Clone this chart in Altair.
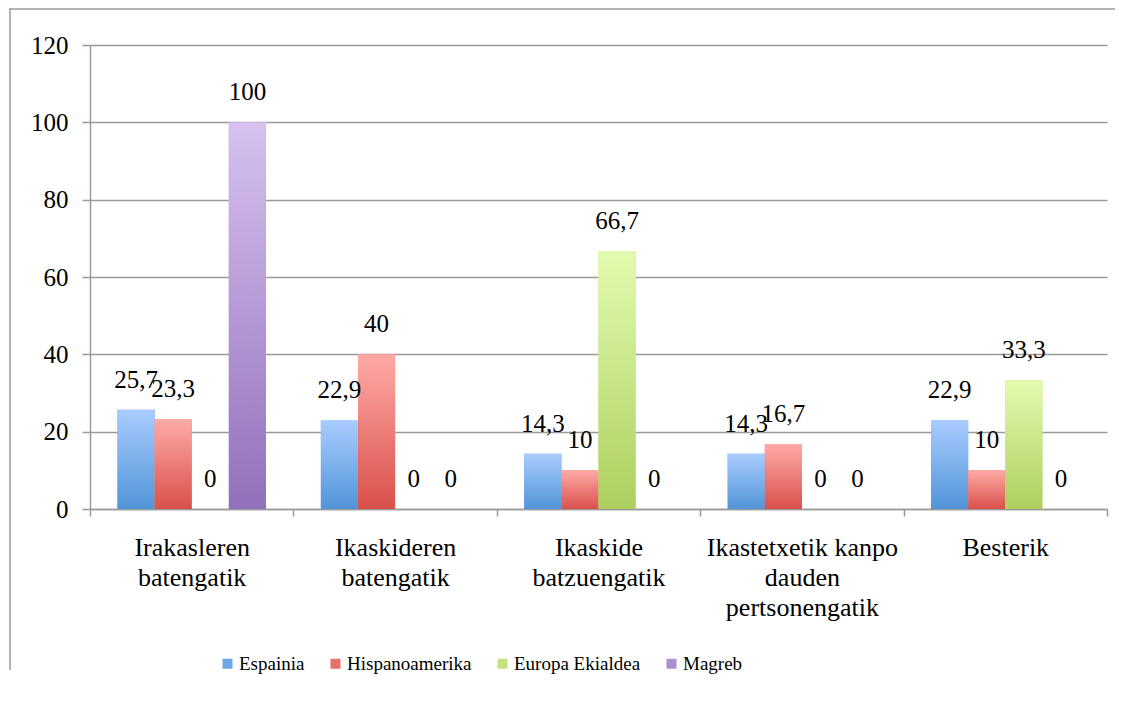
import altair as alt
import pandas as pd

categories = [
    "Irakasleren\nbatengatik",
    "Ikaskideren\nbatengatik",
    "Ikaskide\nbatzuengatik",
    "Ikastetxetik kanpo\ndauden\npertsonengatik",
    "Besterik",
]
series = ["Espainia", "Hispanoamerika", "Europa Ekialdea", "Magreb"]
espainia = [25.7, 22.9, 14.3, 14.3, 22.9]
hispanoamerika = [23.3, 40, 10, 16.7, 10]
europa_ekialdea = [0, 0, 66.7, 0, 33.3]
magreb = [100, 0, 0, 0, 0]
y_ticks = [0, 20, 40, 60, 80, 100, 120]

top_colors = ["#A9CCFF", "#FFAAA6", "#E2FBAF", "#D6C1EF"]
bottom_colors = ["#5194D8", "#D9504A", "#ADCF5E", "#9270BA"]
legend_colors = ["#6EA6E6", "#E9716B", "#C6E27F", "#AE90D2"]

values = [espainia, hispanoamerika, europa_ekialdea, magreb]
rows = []
for s, vals in zip(series, values):
    for c, v in zip(categories, vals):
        rows.append({"category": c, "series": s, "value": v,
                     "label": f"{v:g}".replace(".", ",")})
df = pd.DataFrame(rows)

FONT = "Liberation Serif"
GRAY = "#9a9a9a"

x_enc = alt.X(
    "category:N", sort=categories,
    scale=alt.Scale(paddingInner=0, paddingOuter=0),
    axis=alt.Axis(
        title=None, labelAngle=0, labelExpr="split(datum.label, '\\n')",
        labelFont=FONT, labelFontSize=26, labelColor="black",
        labelLineHeight=30, labelPadding=18, labelLimit=400,
        domainColor=GRAY, domainWidth=1.5, ticks=True, tickBand="extent",
        tickColor=GRAY, tickSize=7, tickWidth=1.5, grid=False,
    ),
)
xo_enc = alt.XOffset(
    "series:N", sort=series,
    scale=alt.Scale(domain=series, paddingInner=0, paddingOuter=0.74),
)
y_enc = alt.Y(
    "value:Q",
    scale=alt.Scale(domain=[0, 120], nice=False),
    axis=alt.Axis(
        title=None, values=y_ticks, grid=True, gridColor=GRAY, gridWidth=1.5,
        domainColor=GRAY, domainWidth=1.5, tickColor=GRAY, tickSize=8,
        tickWidth=1.5, labelFont=FONT, labelFontSize=25, labelColor="black",
        labelPadding=14,
    ),
)

one = pd.DataFrame({"a": [0]})
border_top = alt.Chart(one).mark_rule(color=GRAY, strokeWidth=1.5).encode(
    x=alt.value(-81), x2=alt.value(1025), y=alt.value(-36))
border_left = alt.Chart(one).mark_rule(color=GRAY, strokeWidth=1.5).encode(
    x=alt.value(-80), y=alt.value(-36), y2=alt.value(625))

base_bars = alt.Chart(df).mark_bar().encode(
    x=x_enc, xOffset=xo_enc, y=y_enc,
    color=alt.Color(
        "series:N", sort=series,
        scale=alt.Scale(domain=series, range=legend_colors),
        legend=alt.Legend(
            title=None, orient="none", legendX=128, legendY=609,
            direction="horizontal", symbolType="square", symbolSize=100,
            symbolStrokeWidth=0, labelFont=FONT, labelFontSize=19,
            labelColor="black", columnPadding=21, labelOffset=2,
        ),
    ),
)

grad_layers = []
for s, t, b in zip(series, top_colors, bottom_colors):
    grad_layers.append(
        alt.Chart(df).transform_filter(alt.datum.series == s).mark_bar(
            color=alt.Gradient(
                gradient="linear", x1=0, x2=0, y1=0, y2=1,
                stops=[alt.GradientStop(color=t, offset=0),
                       alt.GradientStop(color=b, offset=1)],
            )
        ).encode(x=x_enc, xOffset=xo_enc, y=y_enc)
    )

labels = alt.Chart(df).mark_text(
    font=FONT, fontSize=25, color="black", baseline="middle", dy=-30
).encode(x=x_enc, xOffset=xo_enc, y=y_enc, text="label:N")

chart = alt.layer(border_top, border_left, base_bars, *grad_layers, labels).properties(
    width=1017, height=464, background="white", padding=0,
).configure(font=FONT).configure_view(stroke=None)

chart.save("out.html", embed_options={"renderer": "svg", "actions": False})
